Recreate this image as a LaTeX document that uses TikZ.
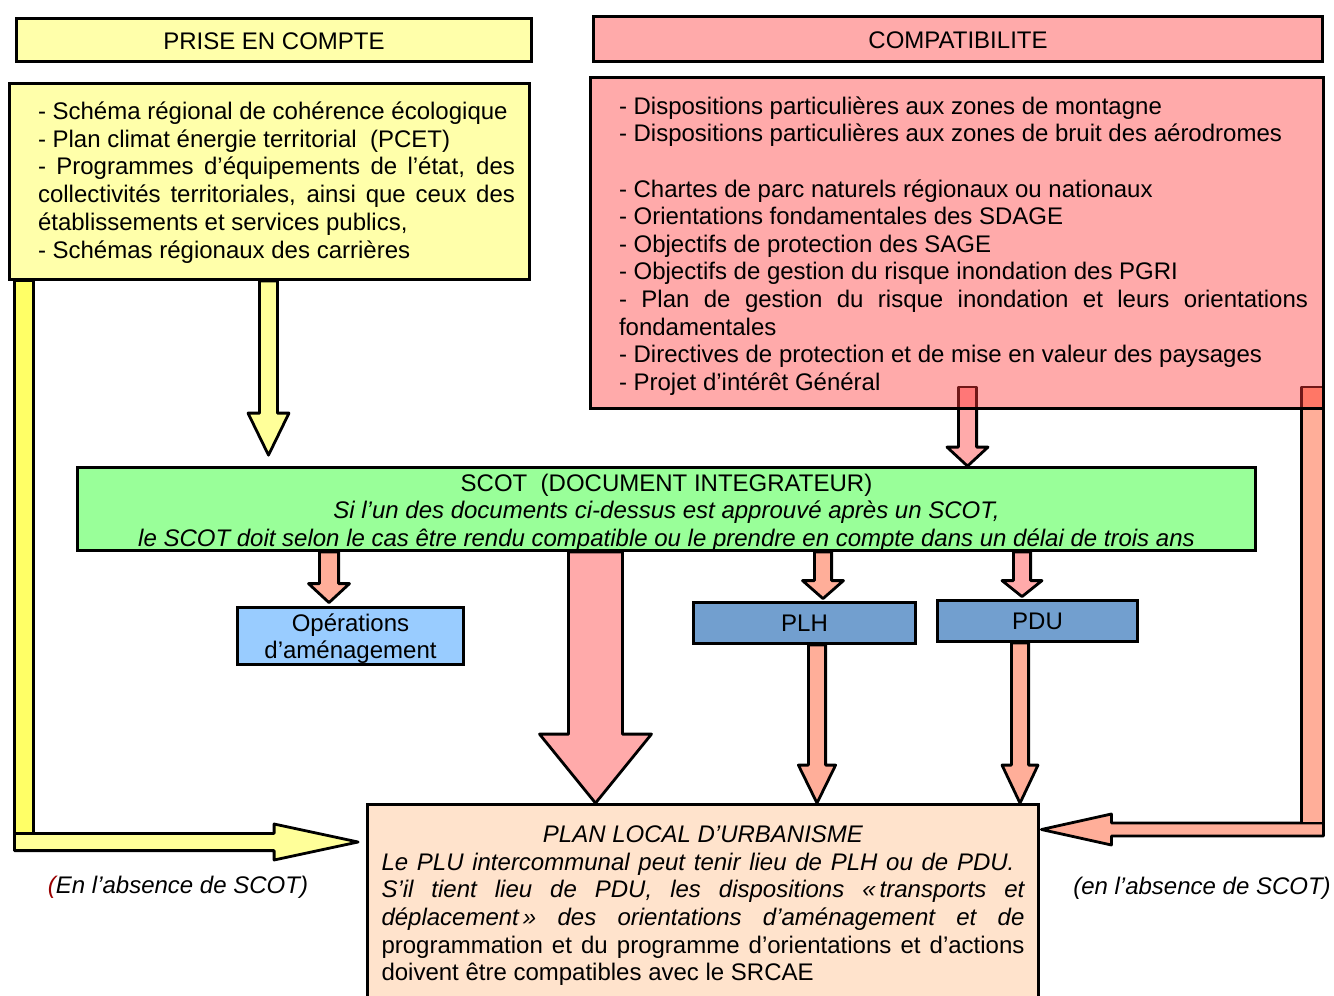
\documentclass[tikz,border=0pt]{standalone}
\usepackage{fontspec}
\setmainfont{Liberation Sans}
\usetikzlibrary{calc}
\pgfdeclarelayer{paper}
\pgfdeclarelayer{arrows}
\pgfsetlayers{paper,arrows,main}
\definecolor{hyel}{HTML}{FFFFAA}
\definecolor{yshaft}{HTML}{FFFF66}
\definecolor{yarr}{HTML}{FFFF99}
\definecolor{rpink}{HTML}{FFAAAA}
\definecolor{rdark}{HTML}{FF7777}
\definecolor{salmon}{HTML}{FFAE99}
\definecolor{salmondark}{HTML}{FF7766}
\definecolor{dredline}{HTML}{701818}
\definecolor{scotg}{HTML}{99FF99}
\definecolor{opsb}{HTML}{99CCFF}
\definecolor{plhb}{HTML}{729FCF}
\definecolor{plub}{HTML}{FFE3CC}
\definecolor{parred}{HTML}{990000}
\tikzset{
  boxs/.style={draw=black,line width=2.8pt,inner sep=0pt,rectangle},
  arrs/.style={draw=black,line width=2.8pt,line join=round},
  every node/.style={font=\fontsize{24}{27.4}\selectfont},
  lab/.style={anchor=base,inner sep=0pt,font=\fontsize{24}{27.4}\selectfont\itshape},
}
% #1 start, #2 tip, #3 half shaft, #4 half head, #5 head length, #6 fill
\newcommand\blkdown[6]{\path[arrs,fill=#6] let \p1=(#1), \p2=(#2) in
  (\x2-#3pt,\y1) -- (\x2-#3pt,\y2+#5pt) -- (\x2-#4pt,\y2+#5pt) -- (\x2,\y2)
  -- (\x2+#4pt,\y2+#5pt) -- (\x2+#3pt,\y2+#5pt) -- (\x2+#3pt,\y1) -- cycle;}
\newcommand\blkleft[6]{\path[arrs,fill=#6] let \p1=(#1), \p2=(#2) in
  (\x1,\y2+#3pt) -- (\x2+#5pt,\y2+#3pt) -- (\x2+#5pt,\y2+#4pt) -- (\x2,\y2)
  -- (\x2+#5pt,\y2-#4pt) -- (\x2+#5pt,\y2-#3pt) -- (\x1,\y2-#3pt) -- cycle;}
\newcommand\blkright[6]{\path[arrs,fill=#6] let \p1=(#1), \p2=(#2) in
  (\x1,\y2+#3pt) -- (\x2-#5pt,\y2+#3pt) -- (\x2-#5pt,\y2+#4pt) -- (\x2,\y2)
  -- (\x2-#5pt,\y2-#4pt) -- (\x2-#5pt,\y2-#3pt) -- (\x1,\y2-#3pt) -- cycle;}
\begin{document}
\begin{tikzpicture}[x=1pt,y=-1pt]
\useasboundingbox (0,0) rectangle (1334,996);
\begin{pgfonlayer}{paper}
\fill[white] (0,0) rectangle (1334,996);
\end{pgfonlayer}

% headers
\node[boxs,fill=hyel,minimum width=515pt,minimum height=43pt,text height=31.1pt,text depth=11.9pt] (hprise) at (274,40) {PRISE EN COMPTE};
\node[boxs,fill=rpink,minimum width=729pt,minimum height=45pt,text height=32.1pt,text depth=12.9pt] (hcomp) at (958,39) {COMPATIBILITE};

% prise en compte box
\node[boxs,fill=hyel,minimum width=520pt,minimum height=196pt,text height=35.8pt,text depth=160.2pt] (yb) at (269.5,181.5)
{\hspace*{14pt}\parbox[t]{477pt}{\raggedright\fontsize{24}{27.8}\selectfont
- Schéma régional de cohérence écologique\\
- Plan climat énergie territorial\ \ (PCET)\\
\makebox[\linewidth][s]{- Programmes d’équipements de l’état, des}\\
\makebox[\linewidth][s]{collectivités territoriales, ainsi que ceux des}\\
établissements et services publics,\\
- Schémas régionaux des carrières}};

% compatibilite box
\node[boxs,fill=rpink,minimum width=733pt,minimum height=331pt,text height=36.8pt,text depth=294.2pt] (rb) at (957,243)
{\hspace*{13pt}\parbox[t]{689pt}{\raggedright\fontsize{24}{27.6}\selectfont
- Dispositions particulières aux zones de montagne\\
- Dispositions particulières aux zones de bruit des aérodromes\\[27.6pt]
- Chartes de parc naturels régionaux ou nationaux\\
- Orientations fondamentales des SDAGE\\
- Objectifs de protection des SAGE\\
- Objectifs de gestion du risque inondation des PGRI\\
\makebox[\linewidth][s]{- Plan de gestion du risque inondation et leurs orientations}\\
fondamentales\\
- Directives de protection et de mise en valeur des paysages\\
- Projet d’intérêt Général}};

% SCOT
\node[boxs,fill=scotg,minimum width=1178pt,minimum height=83pt,text height=23.6pt,text depth=59.4pt] (scot) at (666.5,509)
{\parbox[t]{1170pt}{\centering\fontsize{24}{27.7}\selectfont
SCOT\ \ (DOCUMENT INTEGRATEUR)\\
\itshape Si l’un des documents ci-dessus est approuvé après un SCOT,\\
le SCOT doit selon le cas être rendu compatible ou le prendre en compte dans un délai de trois ans}};

% second row
\node[boxs,fill=opsb,minimum width=226pt,minimum height=57pt,text height=24.2pt,text depth=32.8pt] (ops) at (350.5,636)
{\parbox[t]{220pt}{\centering\fontsize{24}{26.6}\selectfont Opérations\\d’aménagement}};
\node[boxs,fill=plhb,minimum width=222pt,minimum height=41pt] (plh) at (804.5,623) {PLH};
\node[boxs,fill=plhb,minimum width=200pt,minimum height=41pt] (pdu) at (1037.5,621) {PDU};

% PLU
\node[boxs,fill=plub,minimum width=671pt,minimum height=199pt,text height=38.2pt,text depth=160.8pt] (plu) at (703,904)
{\parbox[t]{643pt}{\fontsize{24}{27.6}\selectfont\itshape
{\centering PLAN LOCAL D’URBANISME\par}
\raggedright \makebox[633pt][s]{Le PLU intercommunal peut tenir lieu de PLH ou de PDU.}\\
\makebox[\linewidth][s]{S’il tient lieu de PDU, les dispositions «\,transports et}\\
\makebox[\linewidth][s]{déplacement\,» des orientations d’aménagement et de}\\
\upshape\makebox[\linewidth][s]{programmation et du programme d’orientations et d’actions}\\
doivent être compatibles avec le SRCAE}};

% labels
\node[lab] (labL) at (178,893.7) {\textcolor{parred}{(}En l’absence de SCOT)};
\node[lab] (labR) at (1202,894) {(en l’absence de SCOT)};

% connectors (behind boxes)
\coordinate (ycorner) at (14.4,842);
\coordinate (rcorner) at (1323.5,829.5);
\begin{pgfonlayer}{arrows}
\blkdown{268.5,0 |- yb.south}{$(268.5,0 |- scot.north)+(0,-11)$}{9}{20.5}{42}{yarr}
\blkdown{$(967.5,0 |- rb.south)+(0,-21.5)$}{967.5,0 |- scot.north}{9.1}{20.5}{19}{rpink}
\blkdown{329,0 |- scot.south}{$(329,0 |- ops.north)+(0,-3.5)$}{9.6}{20.5}{19}{salmon}
\blkdown{595.5,0 |- scot.south}{595.5,0 |- plu.north}{27}{56}{69}{rpink}
\blkdown{823,0 |- scot.south}{$(823,0 |- plh.north)+(0,-2.5)$}{8.6}{20.5}{18}{salmon}
\blkdown{1022,0 |- scot.south}{$(1022,0 |- pdu.north)+(0,-2.5)$}{8.6}{20}{16}{rpink}
\blkdown{817,0 |- plh.south}{817,0 |- plu.north}{8.6}{18.6}{38}{salmon}
\blkdown{1020,0 |- pdu.south}{1020,0 |- plu.north}{8.6}{18}{38}{salmon}
% left L arrow
\blkright{ycorner}{$(plu.west |- ycorner)+(-8,0)$}{8.6}{18}{84}{yarr}
\path[arrs,fill=yshaft] (yb.south -| ycorner) rectangle ($(ycorner)+(19.2,-8.6)$);
% right L arrow
\blkleft{rcorner}{$(plu.east |- rcorner)+(1.5,0)$}{6.5}{15.5}{70}{salmon}
\path[arrs,fill=salmon] ($(rb.south -| rcorner)+(-22.1,-21.5)$) rectangle ($(rcorner)+(0,-6.5)$);
\end{pgfonlayer}

% overlap of arrows with the compatibilite box
\fill[rdark] (959.8,388.4) rectangle (975.2,407.1);
\draw[dredline,line width=2.8pt,line join=round] (958.4,407.1) -- (958.4,387) -- (976.6,387) -- (976.6,407.1);
\fill[salmondark] (1302.8,388.4) rectangle (1322.1,407.1);
\draw[dredline,line width=2.8pt,line join=round] (1301.4,407.1) -- (1301.4,387) -- (1322.1,387);
\end{tikzpicture}
\end{document}
